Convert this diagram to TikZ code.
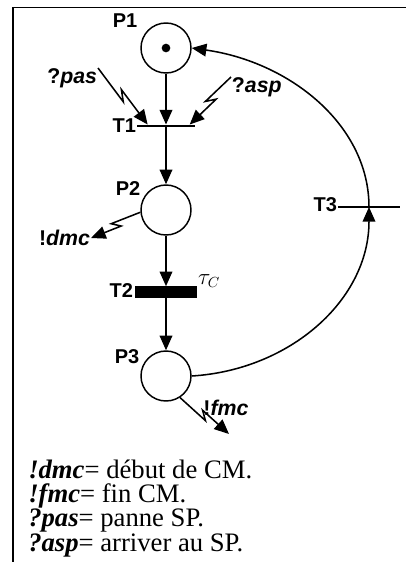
\documentclass[tikz,border=0pt]{standalone}
\usepackage{fontspec}
\setmainfont{Liberation Serif}
\newfontfamily\labelfont{Liberation Sans}
\usetikzlibrary{arrows.meta,calc}

\tikzset{
  place/.style={circle,draw,line width=1.1pt,minimum size=37.5pt,inner sep=0pt},
  token/.style={circle,fill,minimum size=6.5pt,inner sep=0pt},
  thinbar/.style={rectangle,fill,minimum width=44pt,minimum height=1.8pt,inner sep=0pt},
  thickbar/.style={rectangle,fill,minimum width=46pt,minimum height=8.3pt,inner sep=0pt},
  pnlabel/.style={font=\labelfont\fontsize{15}{15}\selectfont\bfseries,inner sep=0.5pt},
  evlabel/.style={font=\labelfont\fontsize{16}{16}\selectfont\bfseries,inner sep=0.5pt},
  pnarc/.style={line width=1.15pt,-{Triangle[length=11pt,width=9.5pt]}},
}
% lightning arrow for external events
\newcommand{\zap}[2]{\draw[pnarc] (#1) -- ($(#1)!0.56!(#2)!2.5pt!90:(#2)$) -- ($(#1)!0.42!(#2)!2.5pt!-90:(#2)$) -- (#2);}

\begin{document}
\begin{tikzpicture}[x=0.75pt,y=0.75pt,yscale=-1,xscale=1]
\useasboundingbox (0,0) rectangle (406,562);

% frame
\draw[line width=1.3pt] (13,580) -- (13,7.5) -- (420,7.5);

% places and transitions
\node[place] (P1) at (166,48) {};
\node[token] (tok) at (P1) {};
\node[thinbar] (T1) at (166,126) {};
\node[place] (P2) at (166,210) {};
\node[thickbar] (T2) at (166,292) {};
\node[place] (P3) at (166,376) {};
\node[thinbar,minimum width=46.5pt] (T3) at (369,207) {};

% labels
\node[pnlabel] (lP1) at (125,21) {P1};
\node[pnlabel,anchor=east] (lT1) at (137,126) {T1};
\node[pnlabel] (lP2) at (128,189) {P2};
\node[pnlabel,anchor=east] (lT2) at (134,291) {T2};
\node[pnlabel] (lP3) at (127,357) {P3};
\node[pnlabel,anchor=east] (lT3) at (338,205) {T3};
\node (tau) at (209,281) {\fontsize{16}{16}\selectfont$\tau_C$};

% events
\node[evlabel,anchor=north east] (pas) at (98,68) {?\textit{pas}};
\node[evlabel,anchor=north west] (asp) at (231,77) {?\textit{asp}};
\node[evlabel,anchor=east] (dmc) at (91,238) {!\textit{dmc}};
\node[evlabel] (fmc) at (226,408) {!\textit{fmc}};
\coordinate (fmcE) at (229,434);

% arcs
\draw[pnarc] (P1) -- (T1);
\draw[pnarc] (T1) -- (P2);
\draw[pnarc] (P2) -- (T2);
\draw[pnarc] (T2) -- (P3);
\draw[pnarc] (P3.east) .. controls (290,370) and (369,300) .. (T3.center);
\draw[pnarc] (T3.center) .. controls (369,125) and (290,62) .. (P1.east);

% lightning arrows
\zap{pas.north east}{$(T1.north west)!0.19!(T1.north east)$}
\zap{asp.north west}{$(T1.north west)!0.9!(T1.north east)$}
\zap{P2.185}{dmc.east}
\zap{P3.-57}{fmcE}

% legend
\node[anchor=base west,align=left,inner sep=0pt,font=\fontsize{20}{18.2}\selectfont] (legend) at (28,551)
  {\textbf{\textit{!dmc}}= début de CM.\\
   \textbf{\textit{!fmc}}= fin CM.\\
   \textbf{\textit{?pas}}= panne SP.\\
   \textbf{\textit{?asp}}= arriver au SP.};
\end{tikzpicture}
\end{document}
